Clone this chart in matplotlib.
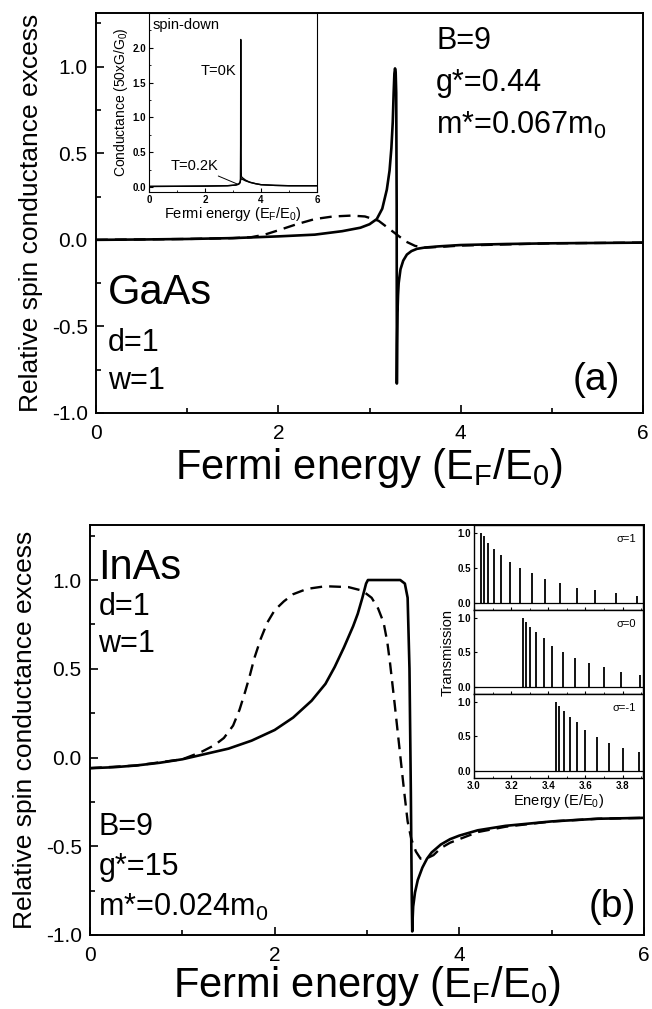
import matplotlib
matplotlib.use('Agg')
import matplotlib.pyplot as plt

plt.rcParams['font.family'] = ['Liberation Sans', 'DejaVu Sans']
plt.rcParams['mathtext.fontset'] = 'custom'
plt.rcParams['mathtext.rm'] = 'Liberation Sans'
plt.rcParams['mathtext.it'] = 'Liberation Sans:italic'
plt.rcParams['mathtext.bf'] = 'Liberation Sans:bold'

# ---- panel (a): GaAs ----
gaas_solid_x = [0, 0.5, 1.0, 1.5, 2.0, 2.4, 2.7, 2.9, 3.0, 3.08, 3.14, 3.19, 3.22, 3.24,
                3.255, 3.265, 3.273, 3.28, 3.287, 3.293, 3.298, 3.300, 3.303, 3.307, 3.313,
                3.32, 3.34, 3.37, 3.41, 3.46, 3.52, 3.6, 3.75, 4.0, 4.5, 5.0, 6.0]
gaas_solid_y = [0.0, 0.002, 0.005, 0.01, 0.02, 0.03, 0.05, 0.07, 0.09, 0.12, 0.18, 0.29, 0.40, 0.53,
                0.68, 0.85, 0.96, 0.99, 0.97, 0.85, 0.2, -0.83, -0.6, -0.42, -0.32,
                -0.25, -0.17, -0.12, -0.085, -0.065, -0.052, -0.045, -0.038, -0.03, -0.024, -0.02, -0.016]
gaas_dash_x = [0, 1.0, 1.5, 1.7, 1.85, 2.0, 2.2, 2.4, 2.6, 2.8, 2.95, 3.1, 3.2, 3.3,
               3.4, 3.5, 3.6, 3.8, 4.0, 5.0, 6.0]
gaas_dash_y = [0.0, 0.005, 0.01, 0.015, 0.03, 0.055, 0.09, 0.12, 0.135, 0.14, 0.135, 0.11, 0.07, 0.03,
               -0.01, -0.035, -0.045, -0.04, -0.033, -0.02, -0.016]

# inset: spin-down conductance
cond_x = [0, 1.0, 2.0, 2.8, 3.1, 3.2, 3.25, 3.265, 3.272, 3.277, 3.283, 3.29, 3.3, 3.35,
          3.45, 3.6, 3.8, 4.0, 4.5, 5.0, 6.0]
cond_0K = [0.01, 0.012, 0.015, 0.02, 0.03, 0.04, 0.06, 0.1, 0.6, 2.12, 0.5, 0.2, 0.15, 0.13,
           0.1, 0.07, 0.05, 0.035, 0.025, 0.02, 0.02]
cond_02K = [0.01, 0.012, 0.015, 0.02, 0.03, 0.045, 0.07, 0.09, 0.11, 0.12, 0.12, 0.12, 0.12, 0.11,
            0.09, 0.07, 0.05, 0.035, 0.025, 0.02, 0.02]

# ---- panel (b): InAs ----
inas_solid_x = [0, 0.25, 0.5, 0.75, 1.0, 1.25, 1.5, 1.75, 2.0, 2.2, 2.4, 2.55, 2.65, 2.75,
                2.85, 2.9, 2.95, 2.99, 3.01, 3.2, 3.36, 3.41, 3.44, 3.46, 3.475, 3.485, 3.49,
                3.495, 3.5, 3.52, 3.55, 3.6, 3.65, 3.7, 3.8, 3.9, 4.0, 4.2, 4.5, 5.0, 5.5, 6.0]
inas_solid_y = [-0.06, -0.055, -0.045, -0.03, -0.01, 0.02, 0.05, 0.095, 0.155, 0.225, 0.32, 0.415,
                0.51, 0.62, 0.74, 0.81, 0.9, 0.98, 1.0, 1.0, 1.0, 0.98, 0.9, 0.5, -0.2, -0.8, -0.98,
                -0.9, -0.84, -0.76, -0.69, -0.62, -0.57, -0.535, -0.49, -0.46, -0.44, -0.41, -0.385,
                -0.36, -0.345, -0.34]
inas_dash_x = [0, 0.5, 1.0, 1.2, 1.35, 1.45, 1.55, 1.62, 1.68, 1.73, 1.78, 1.85, 1.92, 2.0,
               2.1, 2.2, 2.35, 2.55, 2.8, 2.95, 3.05, 3.12, 3.18, 3.22, 3.25, 3.3, 3.35, 3.4,
               3.44, 3.48, 3.53, 3.58, 3.64, 3.72, 3.8, 3.9, 4.0, 4.2, 4.5, 5.0, 5.5, 6.0]
inas_dash_y = [-0.06, -0.045, -0.01, 0.03, 0.07, 0.11, 0.18, 0.27, 0.37, 0.46, 0.56, 0.67, 0.76, 0.83,
               0.88, 0.92, 0.95, 0.965, 0.96, 0.94, 0.9, 0.84, 0.76, 0.65, 0.53, 0.3, 0.06, -0.18,
               -0.36, -0.46, -0.53, -0.57, -0.57, -0.55, -0.51, -0.48, -0.46, -0.42, -0.39, -0.36,
               -0.345, -0.34]

# inset: transmission for three sigma values
sigma_labels = ['σ=1', 'σ=0', 'σ=-1']
trans_x = [
    [3.035, 3.052, 3.077, 3.106, 3.146, 3.195, 3.25, 3.31, 3.385, 3.465, 3.555, 3.654, 3.762, 3.876],
    [3.263, 3.281, 3.303, 3.335, 3.375, 3.42, 3.48, 3.546, 3.618, 3.70, 3.79, 3.896],
    [3.443, 3.458, 3.483, 3.515, 3.555, 3.60, 3.66, 3.728, 3.804, 3.888],
]
trans_y = [
    [1.0, 0.95, 0.86, 0.77, 0.69, 0.58, 0.50, 0.42, 0.34, 0.28, 0.22, 0.18, 0.14, 0.10],
    [1.0, 0.93, 0.86, 0.79, 0.70, 0.59, 0.50, 0.42, 0.35, 0.29, 0.22, 0.18],
    [1.0, 0.93, 0.87, 0.78, 0.70, 0.59, 0.49, 0.41, 0.33, 0.28],
]

W, H = 652, 1009
fig = plt.figure(figsize=(W / 100, H / 100), dpi=100)


def frac(left, top, right, bottom):
    return [left / W, 1 - bottom / H, (right - left) / W, (bottom - top) / H]


def style_main(ax, xpad):
    ax.set_xlim(0, 6)
    ax.set_ylim(-1.0, 1.31)
    ax.set_xticks([0, 2, 4, 6])
    ax.set_xticks([1, 3, 5], minor=True)
    ax.set_yticks([-1.0, -0.5, 0.0, 0.5, 1.0])
    ax.set_yticklabels(['-1.0', '-0.5', '0.0', '0.5', '1.0'])
    ax.set_yticks([-0.75, -0.25, 0.25, 0.75, 1.25], minor=True)
    ax.tick_params(which='both', direction='in', top=False, right=False, labelsize=15, width=1.2)
    ax.tick_params(which='major', length=6)
    ax.tick_params(which='minor', length=3.5)
    ax.tick_params(axis='x', pad=8)
    ax.tick_params(axis='y', pad=6)
    for s in ax.spines.values():
        s.set_linewidth(1.4)
    ax.set_xlabel(r'Fermi energy (E$_\mathregular{F}$/E$_\mathregular{0}$)', fontsize=30, labelpad=xpad)
    ax.set_ylabel('Relative spin conductance excess', fontsize=19, labelpad=6)


# ---- top panel ----
ax1 = fig.add_axes(frac(96, 13, 643, 413))
ax1.plot(gaas_solid_x, gaas_solid_y, color='black', lw=1.9)
ax1.plot(gaas_dash_x, gaas_dash_y, color='black', lw=1.7, dashes=[5, 3])
style_main(ax1, 2)
ax1.text(0.622, 0.93, 'B=9', transform=ax1.transAxes, fontsize=22, va='center')
ax1.text(0.622, 0.826, 'g*=0.44', transform=ax1.transAxes, fontsize=22, va='center')
ax1.text(0.622, 0.72, r'm*=0.067m$_\mathregular{0}$', transform=ax1.transAxes, fontsize=22, va='center')
ax1.text(0.022, 0.30, 'GaAs', transform=ax1.transAxes, fontsize=30, va='center')
ax1.text(0.022, 0.175, 'd=1', transform=ax1.transAxes, fontsize=22, va='center')
ax1.text(0.022, 0.08, 'w=1', transform=ax1.transAxes, fontsize=22, va='center')
ax1.text(0.958, 0.083, '(a)', transform=ax1.transAxes, fontsize=28, va='center', ha='right')

# inset of top panel
axi = fig.add_axes(frac(149, 13, 317, 192))
axi.plot(cond_x, cond_02K, color='black', lw=1.0)
axi.plot(cond_x, cond_0K, color='black', lw=1.0)
axi.set_xlim(0, 6)
axi.set_ylim(-0.07, 2.5)
axi.set_xticks([0, 2, 4, 6])
axi.set_xticks([1, 3, 5], minor=True)
axi.set_yticks([0.0, 0.5, 1.0, 1.5, 2.0])
axi.set_yticklabels(['0.0', '0.5', '1.0', '1.5', '2.0'])
axi.set_yticks([0.25, 0.75, 1.25, 1.75, 2.25], minor=True)
axi.tick_params(which='both', direction='in', top=False, right=False, labelsize=7, pad=2)
axi.tick_params(which='major', length=3)
axi.tick_params(which='minor', length=1.5)
for lab in axi.get_xticklabels() + axi.get_yticklabels():
    lab.set_fontweight('bold')
axi.set_xlabel(r'Fermi energy (E$_\mathregular{F}$/E$_\mathregular{0}$)', fontsize=10.5, labelpad=0)
axi.set_ylabel(r'Conductance (50xG/G$_\mathregular{0}$)', fontsize=10, labelpad=2)
axi.text(0.14, 2.33, 'spin-down', fontsize=10.5, va='center')
axi.text(1.86, 1.67, 'T=0K', fontsize=10.5, va='center')
axi.annotate('T=0.2K', xy=(3.18, 0.04), xytext=(0.79, 0.3), fontsize=10.5, va='center',
             arrowprops=dict(arrowstyle='-', lw=0.7, color='black', shrinkA=0, shrinkB=0,
                             relpos=(0.85, 0.0)))

# ---- bottom panel ----
ax2 = fig.add_axes(frac(90, 525, 644, 935))
ax2.plot(inas_solid_x, inas_solid_y, color='black', lw=1.9)
ax2.plot(inas_dash_x, inas_dash_y, color='black', lw=1.7, dashes=[5, 3])
style_main(ax2, -1)
ax2.text(0.015, 0.895, 'InAs', transform=ax2.transAxes, fontsize=30, va='center')
ax2.text(0.015, 0.80, 'd=1', transform=ax2.transAxes, fontsize=22, va='center')
ax2.text(0.015, 0.71, 'w=1', transform=ax2.transAxes, fontsize=22, va='center')
ax2.text(0.015, 0.263, 'B=9', transform=ax2.transAxes, fontsize=22, va='center')
ax2.text(0.015, 0.166, 'g*=15', transform=ax2.transAxes, fontsize=22, va='center')
ax2.text(0.015, 0.068, r'm*=0.024m$_\mathregular{0}$', transform=ax2.transAxes, fontsize=22, va='center')
ax2.text(0.985, 0.068, '(b)', transform=ax2.transAxes, fontsize=28, va='center', ha='right')

# inset of bottom panel: three stacked transmission plots
panel_rows = [(525, 610), (610, 694), (694, 778)]
for i, (top, bot) in enumerate(panel_rows):
    axt = fig.add_axes(frac(474, top, 643, bot))
    axt.vlines(trans_x[i], 0, trans_y[i], color='black', lw=1.3)
    axt.axhline(0, color='black', lw=0.9)
    axt.set_xlim(3.0, 3.91)
    axt.set_ylim(-0.1, 1.11)
    axt.set_yticks([0.0, 0.5, 1.0])
    axt.set_yticklabels(['0.0', '0.5', '1.0'])
    axt.set_xticks([3.0, 3.2, 3.4, 3.6, 3.8])
    axt.set_xticks([3.1, 3.3, 3.5, 3.7, 3.9], minor=True)
    axt.tick_params(which='both', direction='in', top=False, right=False, labelsize=7, pad=2)
    axt.tick_params(which='major', length=2.5)
    axt.tick_params(which='minor', length=1.5)
    if i < 2:
        axt.tick_params(axis='x', labelbottom=False)
    for lab in axt.get_xticklabels() + axt.get_yticklabels():
        lab.set_fontweight('bold')
    for s in axt.spines.values():
        s.set_linewidth(1.0)
    axt.text(0.96, 0.83, sigma_labels[i], transform=axt.transAxes, fontsize=8, ha='right', va='center')
    if i == 1:
        axt.set_ylabel('Transmission', fontsize=10.5, labelpad=2)
    if i == 2:
        axt.set_xlabel(r'Energy (E/E$_\mathregular{0}$)', fontsize=10.5, labelpad=1)

fig.savefig('out.png', dpi=100)
